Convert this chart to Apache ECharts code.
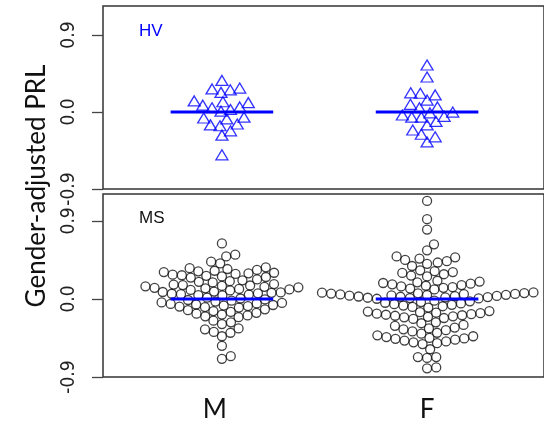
<!DOCTYPE html>
<html><head><meta charset="utf-8">
<script src="https://cdn.jsdelivr.net/npm/echarts@6/dist/echarts.min.js"></script>
<style>html,body{margin:0;padding:0;background:#fff}#c{width:544px;height:428px}</style>
</head><body><div id="c"></div>
<script>
// ---- data ----
const categories = ['M', 'F'];
const panelNames = ['HV', 'MS'];
const yTicks = [-0.9, 0, 0.9];
const xLabelPos = [0.965, 2.0];
const mediansHV = [0, 0];
const mediansMS = [0, 0];

const hvM = [0.37, 0.28, 0.27, 0.26, 0.23, 0.13, 0.12, 0.11, 0.08, 0.06, 0.05, 0.03, 0.01,
  -0.06, -0.07, -0.08, -0.14, -0.15, -0.16, -0.22, -0.27, -0.50];
const hvF = [0.55, 0.41, 0.225, 0.22, 0.20, 0.14, 0.09, 0.06, 0.05, 0.00, -0.01, -0.035,
  -0.05, -0.06, -0.06, -0.11, -0.15, -0.21, -0.26, -0.29, -0.35];

const msM = [0.64, 0.51, 0.49, 0.43, 0.41,
  0.365, 0.355, 0.345, 0.335, 0.325, 0.318, 0.31, 0.302, 0.295, 0.288, 0.28, 0.273, 0.266, 0.26, 0.253, 0.246,
  0.225, 0.215, 0.205, 0.197, 0.19,
  0.172, 0.166, 0.16, 0.155, 0.15, 0.145, 0.14, 0.134, 0.128, 0.122, 0.116, 0.11, 0.104, 0.098,
  0.085, 0.08, 0.075, 0.07, 0.065, 0.06, 0.055, 0.05, 0.045, 0.04,
  0.015, 0.005, -0.005, -0.012, -0.02, -0.03,
  -0.04, -0.046, -0.052, -0.058, -0.064, -0.07, -0.076, -0.082, -0.088, -0.094, -0.10,
  -0.12, -0.13, -0.14, -0.15, -0.16, -0.17, -0.18, -0.19, -0.20, -0.21,
  -0.25, -0.27, -0.29,
  -0.34, -0.35, -0.38, -0.39, -0.43,
  -0.54, -0.66, -0.69];

const msF = [1.13, 0.92, 0.80, 0.63, 0.56,
  0.49, 0.48, 0.465, 0.45, 0.435, 0.42, 0.405, 0.38,
  0.33, 0.32, 0.31, 0.30, 0.285, 0.27, 0.26,
  0.21, 0.20, 0.192, 0.184, 0.176, 0.168, 0.16, 0.152, 0.144, 0.136, 0.128, 0.12, 0.11,
  0.075, 0.072, 0.068, 0.065, 0.062, 0.058, 0.055, 0.052, 0.048, 0.045, 0.042, 0.038, 0.035,
  0.032, 0.028, 0.025, 0.021, 0.018, 0.014, 0.01, 0.006, 0.002,
  -0.02, -0.028, -0.036, -0.044, -0.052, -0.06, -0.068, -0.076, -0.084, -0.092, -0.10,
  -0.14, -0.146, -0.152, -0.158, -0.164, -0.17, -0.176, -0.182, -0.188, -0.194, -0.20, -0.206, -0.212, -0.22, -0.23,
  -0.27, -0.28, -0.30, -0.31,
  -0.33, -0.34, -0.35, -0.36, -0.375, -0.39, -0.40,
  -0.42, -0.43, -0.44, -0.45, -0.455, -0.46, -0.47, -0.48, -0.49, -0.50, -0.51, -0.52,
  -0.58, -0.67, -0.67, -0.68, -0.79, -0.80];

// ---- chart ----
const BLUE = '#0000ff';
const chart = echarts.init(document.getElementById('c'), null, { renderer: 'canvas' });
const grids = [
  { left: 103, top: 6, width: 445, height: 183 },
  { left: 103, top: 194, width: 445, height: 183 }
];
const yMax = [1.24, 1.21];
const groups = [
  { grid: 0, cat: 0, vals: hvM, sym: 'triangle', size: [12, 10], color: BLUE, D: 9.6 },
  { grid: 0, cat: 1, vals: hvF, sym: 'triangle', size: [12, 10], color: BLUE, D: 9.6 },
  { grid: 1, cat: 0, vals: msM, sym: 'circle', size: 9, color: '#111', D: 9.2 },
  { grid: 1, cat: 1, vals: msF, sym: 'circle', size: 9, color: '#111', D: 9.2 }
];
const medians = [mediansHV, mediansMS];

function swarm(pys, D) {
  const order = pys.map((_, i) => i).sort((a, b) => (pys[b] - pys[a]) || (a - b));
  const px = [], py = [], res = new Array(pys.length);
  for (const i of order) {
    const y = pys[i];
    const near = [];
    for (let j = 0; j < px.length; j++) if (Math.abs(y - py[j]) < D) near.push(j);
    const cands = [0];
    for (const j of near) cands.push(px[j] + Math.sqrt(D * D - (y - py[j]) ** 2));
    for (const j of near) cands.push(px[j] - Math.sqrt(D * D - (y - py[j]) ** 2));
    let best = null;
    for (const c of cands) {
      let ok = true;
      for (const j of near) {
        if ((c - px[j]) ** 2 + (y - py[j]) ** 2 < D * D - 1e-6) { ok = false; break; }
      }
      if (ok && (best === null || Math.abs(c) < Math.abs(best) - 1e-9)) best = c;
    }
    px.push(best); py.push(y); res[i] = best;
  }
  return res;
}

const fontTick = '"Liberation Sans Narrow", "DejaVu Sans Condensed", "Liberation Sans", sans-serif';

function buildOption(pointData) {
  const series = [];
  groups.forEach((g, k) => {
    series.push({
      type: 'scatter', xAxisIndex: g.grid, yAxisIndex: g.grid,
      symbol: g.sym, symbolSize: g.size, z: 2,
      itemStyle: { color: 'rgba(0,0,0,0)', borderColor: g.color, borderWidth: 1.3 },
      emphasis: { disabled: true },
      data: pointData[k]
    });
  });
  medians.forEach((m, gi) => {
    m.forEach((v, ci) => {
      series.push({
        type: 'line', xAxisIndex: gi, yAxisIndex: gi, symbol: 'none', z: 3,
        lineStyle: { color: BLUE, width: 3 },
        data: [[ci + 1 - 0.25, v], [ci + 1 + 0.25, v]]
      });
    });
  });
  return {
    animation: false,
    grid: grids.map(g => Object.assign({ show: true, borderColor: '#333', borderWidth: 1.5, backgroundColor: 'transparent' }, g)),
    xAxis: [0, 1].map(i => ({
      type: 'value', gridIndex: i, min: 0.4203, max: 2.570,
      axisLine: { show: false }, axisTick: { show: false }, splitLine: { show: false },
      axisLabel: i === 0 ? { show: false } : {
        show: true, customValues: xLabelPos, margin: 20,
        fontFamily: 'Lato', fontSize: 26, color: '#111',
        formatter: v => {
          let bi = 0;
          xLabelPos.forEach((p, k) => { if (Math.abs(p - v) < Math.abs(xLabelPos[bi] - v)) bi = k; });
          return categories[bi];
        }
      }
    })),
    yAxis: [0, 1].map(i => ({
      type: 'value', gridIndex: i, min: -0.9, max: yMax[i], interval: 0.9,
      axisLine: { show: false }, splitLine: { show: false },
      axisTick: { show: true, length: 11, customValues: yTicks, lineStyle: { color: '#444', width: 1.3 } },
      axisLabel: {
        show: true, customValues: yTicks, rotate: 90, margin: 24,
        fontFamily: fontTick, fontSize: 19, color: '#222',
        formatter: v => v.toFixed(1)
      }
    })),
    graphic: [
      { type: 'text', left: 139, top: 23, style: { text: panelNames[0], fill: BLUE, font: '17px "Liberation Sans", Arial, sans-serif' } },
      { type: 'text', left: 139, top: 210, style: { text: panelNames[1], fill: '#111', font: '17px "Liberation Sans", Arial, sans-serif' } },
      { type: 'text', x: 37, y: 186, rotation: Math.PI / 2,
        style: { text: 'Gender-adjusted PRL', fill: '#111', font: '26px Lato, sans-serif', align: 'center', verticalAlign: 'middle' } }
    ],
    series
  };
}

// first pass: place at centres to get scales
const initData = groups.map(g => g.vals.map(v => [g.cat + 1, v]));
chart.setOption(buildOption(initData));

const finalData = groups.map(g => {
  const ref0 = chart.convertToPixel({ gridIndex: g.grid }, [1, 0]);
  const ref1 = chart.convertToPixel({ gridIndex: g.grid }, [2, 0]);
  const pxPerUnit = ref1[0] - ref0[0];
  const pys = g.vals.map(v => chart.convertToPixel({ gridIndex: g.grid }, [g.cat + 1, v])[1]);
  const offs = swarm(pys, g.D);
  return g.vals.map((v, i) => [g.cat + 1 + offs[i] / pxPerUnit, v]);
});
chart.setOption(buildOption(finalData));
</script>
</body></html>
